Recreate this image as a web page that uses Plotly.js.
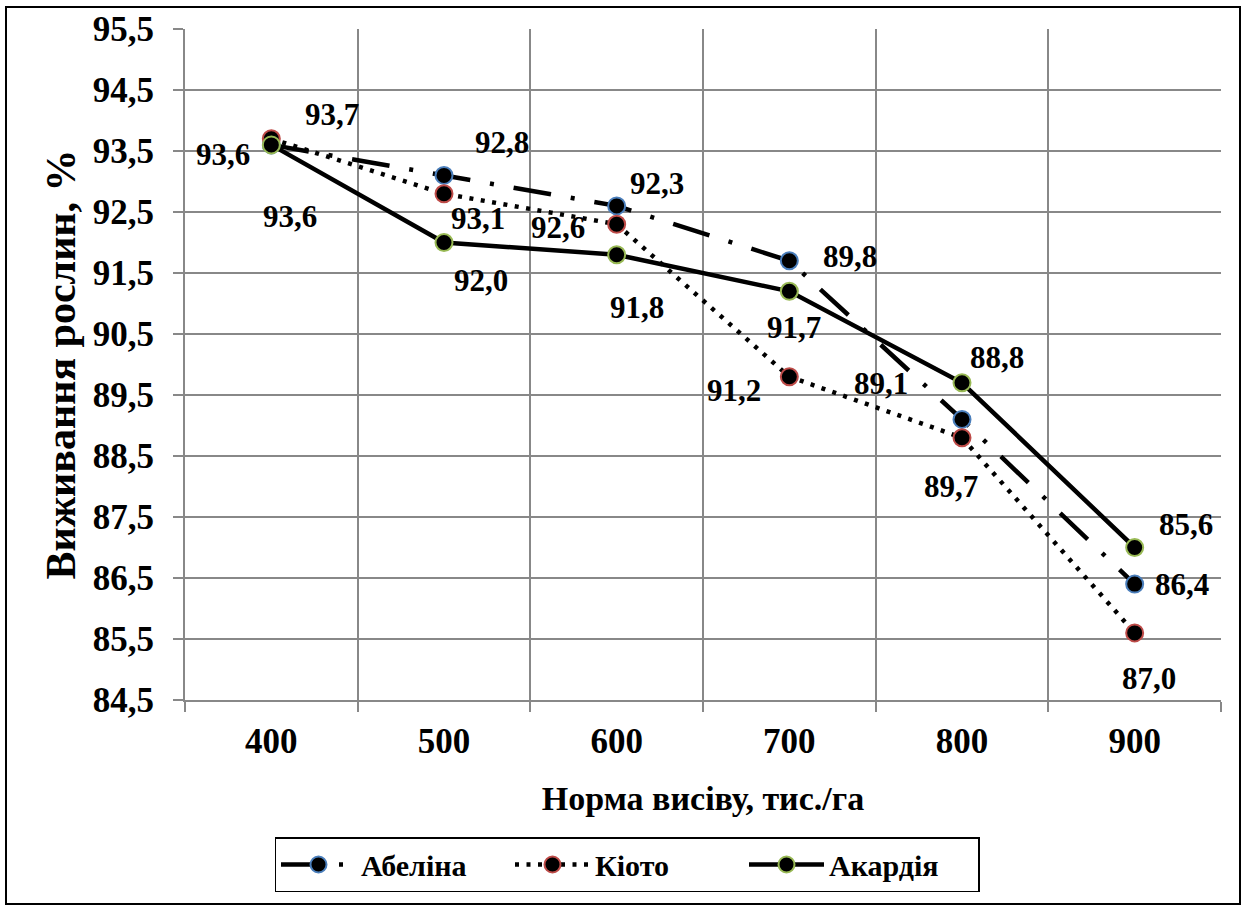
<!DOCTYPE html>
<html>
<head>
<meta charset="utf-8">
<script src="https://cdn.plot.ly/plotly-3.0.1.min.js"></script>
<style>html,body{margin:0;padding:0;background:#fff;}#chart{width:1248px;height:908px;}</style>
</head>
<body>
<div id="chart"></div>
<script>
// ---- data ----
const categories = ['400', '500', '600', '700', '800', '900'];
const seriesNames = ['Абеліна', 'Кіото', 'Акардія'];
const abelina = [93.6, 93.1, 92.6, 91.7, 89.1, 86.4];
const kioto   = [93.7, 92.8, 92.3, 89.8, 88.8, 85.6];
const akardia = [93.6, 92.0, 91.8, 91.2, 89.7, 87.0];
const yTickVals = [84.5, 85.5, 86.5, 87.5, 88.5, 89.5, 90.5, 91.5, 92.5, 93.5, 94.5, 95.5];
const xTitle = 'Норма висіву, тис./га';
const yTitle = 'Виживання рослин, %';

// ---- label placement (pixel offsets from each point; style only) ----
const labelDX = [
  [-48, 34, -59, 5, -81, 47],
  [61, 58, 40, 61, 35, 51],
  [19, 37, 20, -55, -11, 14]
];
const labelDY = [
  [-10, -43, -22, -67, 36, 0],
  [24, 51, 41, 120, 80, 108],
  [-72, -38, -53, -99, -104, -131]
];

const FONT = '"Liberation Serif", "Times New Roman", serif';
const values = [abelina, kioto, akardia];
const edgeColors = ['#4A7EBB', '#BE4B48', '#98B954'];
const dashes = ['38px,20px,4px,20px', '4px,7.5px', 'solid'];

const traces = values.map((v, s) => ({
  type: 'scatter',
  mode: 'lines+markers',
  name: '<b>' + seriesNames[s] + '</b>',
  x: categories,
  y: v,
  line: {color: '#000', width: 4.5, dash: dashes[s]},
  marker: {size: 17, color: '#000', line: {color: edgeColors[s], width: 2}},
  cliponaxis: false,
  hoverinfo: 'x+y'
}));

const fmt = v => v.toFixed(1).replace('.', ',');
const annotations = [];
values.forEach((v, s) => {
  v.forEach((val, i) => {
    annotations.push({
      x: i, y: val, xref: 'x', yref: 'y',   // i = category index on the category axis
      text: '<b>' + fmt(val) + '</b>',
      showarrow: false,
      xshift: labelDX[s][i], yshift: labelDY[s][i],
      font: {family: FONT, size: 31, color: '#000'}
    });
  });
});

const L = 185, R = 27, T = 29, B = 208;
const W = 1248, H = 908;
const pw = W - L - R, ph = H - T - B;
const px = x => (x - L) / pw;
const py = y => (H - B - y) / ph;

const layout = {
  width: W, height: H,
  margin: {l: L, r: R, t: T, b: B, pad: 0, autoexpand: false},
  paper_bgcolor: '#fff', plot_bgcolor: '#fff',
  separators: ', ',
  font: {family: FONT, size: 32, color: '#000'},
  showlegend: true,
  legend: {
    orientation: 'h', x: px(627), xanchor: 'center', y: py(837), yanchor: 'top',
    bordercolor: '#000', borderwidth: 1.5, bgcolor: '#fff',
    font: {family: FONT, size: 30, color: '#000'},
    itemwidth: 75, entrywidth: 144, tracegroupgap: 0
  },
  xaxis: {
    type: 'category', range: [-0.5, 5.5],
    tickson: 'boundaries', ticks: 'outside', ticklen: 10, tickwidth: 2, tickcolor: '#888',
    showgrid: true, gridcolor: '#888', gridwidth: 2,
    showline: true, linecolor: '#888', linewidth: 2,
    tickfont: {family: FONT, size: 35, color: '#000', weight: 'bold'},
    ticklabelstandoff: 9,
    title: {text: '<b>' + xTitle + '</b>', font: {family: FONT, size: 34, color: '#000'}, standoff: 26},
    zeroline: false, fixedrange: true
  },
  yaxis: {
    range: [84.5, 95.5], tickvals: yTickVals, ticktext: yTickVals.map(fmt),
    ticks: 'outside', ticklen: 10, tickwidth: 2, tickcolor: '#888',
    showgrid: true, gridcolor: '#888', gridwidth: 2,
    showline: true, linecolor: '#888', linewidth: 2,
    tickfont: {family: FONT, size: 35, color: '#000', weight: 'bold'},
    ticklabelstandoff: 12,
    title: {text: '<b>' + yTitle + '</b>', font: {family: FONT, size: 42, color: '#000'}, standoff: 4},
    zeroline: false, fixedrange: true
  },
  annotations: annotations,
  shapes: [{
    type: 'rect', xref: 'paper', yref: 'paper', layer: 'below',
    x0: px(6), x1: px(1240), y0: py(904), y1: py(7),
    line: {color: '#000', width: 2}, fillcolor: 'rgba(0,0,0,0)'
  }]
};

Plotly.newPlot('chart', traces, layout, {displayModeBar: false, staticPlot: true});
</script>
</body>
</html>
